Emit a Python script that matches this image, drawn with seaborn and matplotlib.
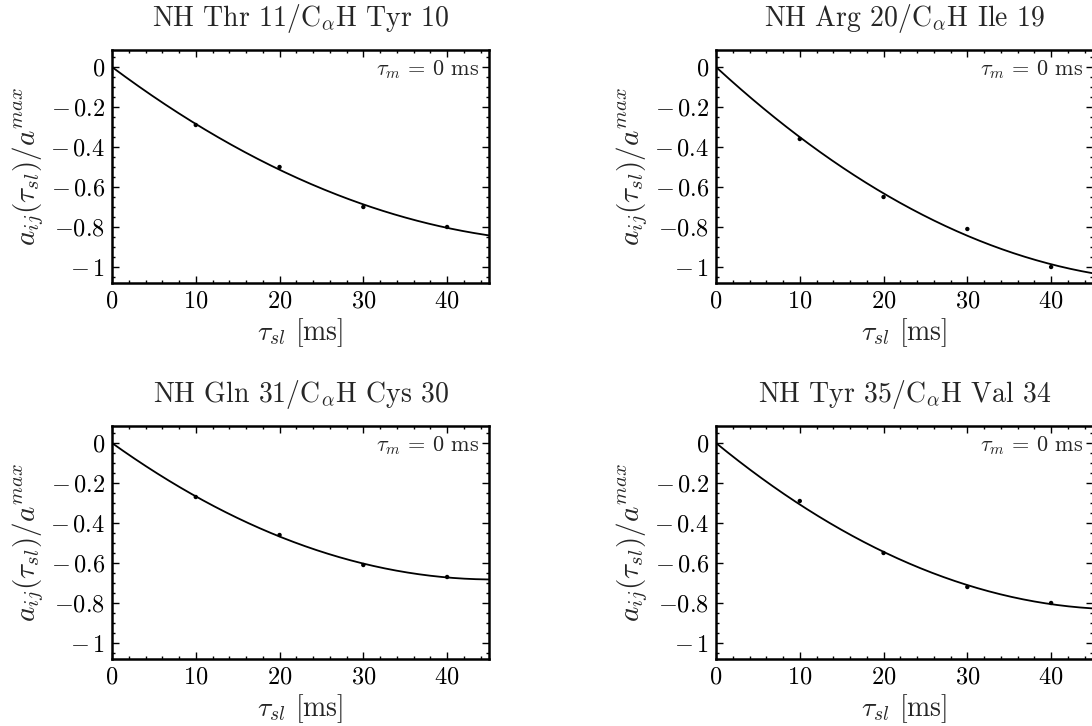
import numpy as np
import pandas as pd
import matplotlib
matplotlib.use('Agg')
import matplotlib.pyplot as plt
import seaborn as sns
from matplotlib.ticker import MultipleLocator

# spin-lock times [ms] and normalised cross-relaxation values per pair
tau_sl = [10, 20, 30, 40]
titles = [r'NH Thr 11/C$_\alpha$H Tyr 10',
          r'NH Arg 20/C$_\alpha$H Ile 19',
          r'NH Gln 31/C$_\alpha$H Cys 30',
          r'NH Tyr 35/C$_\alpha$H Val 34']
thr11 = [-0.29, -0.50, -0.70, -0.80]
arg20 = [-0.36, -0.65, -0.81, -1.00]
gln31 = [-0.27, -0.46, -0.61, -0.67]
tyr35 = [-0.29, -0.55, -0.72, -0.80]
yticks = [0, -0.2, -0.4, -0.6, -0.8, -1]
ytick_labels = [r'$0$', r'$-\,0.2$', r'$-\,0.4$', r'$-\,0.6$', r'$-0.8$', r'$-\,1$']
xticks = [0, 10, 20, 30, 40]

sns.set_theme(style='ticks')
plt.rcParams['font.family'] = ['cmr10', 'DejaVu Serif']
plt.rcParams['mathtext.fontset'] = 'cm'
plt.rcParams['axes.formatter.use_mathtext'] = True

fig = plt.figure(figsize=(10.92, 7.26), dpi=100)
W, H = 1092, 726
boxes = [(112, 50), (716, 50), (112, 426), (716, 426)]
aw, ah = 377, 233

for (x0, y0), title, vals in zip(boxes, titles, [thr11, arg20, gln31, tyr35]):
    ax = fig.add_axes([x0 / W, 1 - (y0 + ah) / H, aw / W, ah / H])
    df = pd.DataFrame({'t': tau_sl, 'a': vals})

    # fit a + b t^2 through the origin (the curve starts at 0)
    A = np.column_stack([df.t, df.t ** 2])
    coef, *_ = np.linalg.lstsq(A, df.a, rcond=None)
    tt = np.linspace(0, 45, 200)
    fit = pd.DataFrame({'t': tt, 'a': coef[0] * tt + coef[1] * tt ** 2})

    sns.lineplot(data=fit, x='t', y='a', ax=ax, color='black', lw=1.3)
    sns.scatterplot(data=df, x='t', y='a', ax=ax, color='black', s=10,
                    edgecolor='none', zorder=3)

    ax.set_xlim(0, 45)
    ax.set_ylim(-1.08, 0.085)
    ax.set_xticks(xticks)
    ax.set_xticklabels([r'$%d$' % v for v in xticks])
    ax.set_yticks(yticks)
    ax.set_yticklabels(ytick_labels)
    ax.xaxis.set_minor_locator(MultipleLocator(2))
    ax.yaxis.set_minor_locator(MultipleLocator(0.05))
    ax.tick_params(which='both', direction='in', top=True, right=True,
                   labelsize=17.5, width=1, color='black', labelcolor='black')
    ax.tick_params(which='major', length=5, pad=5)
    ax.tick_params(which='minor', length=2.5)
    for s in ax.spines.values():
        s.set_linewidth(1.8)
        s.set_color('black')

    ax.set_title(title, fontsize=20, pad=17)
    ax.set_xlabel(r'$\tau_{sl}$ [ms]', fontsize=20, labelpad=3)
    ax.set_ylabel(r'$a_{ij}(\tau_{sl})/a^{max}$', fontsize=21, labelpad=3)
    ax.text(0.975, 0.915, r'$\tau_m\,=\,0$ ms', transform=ax.transAxes,
            ha='right', va='center', fontsize=16)

fig.savefig('out.png', dpi=100)
